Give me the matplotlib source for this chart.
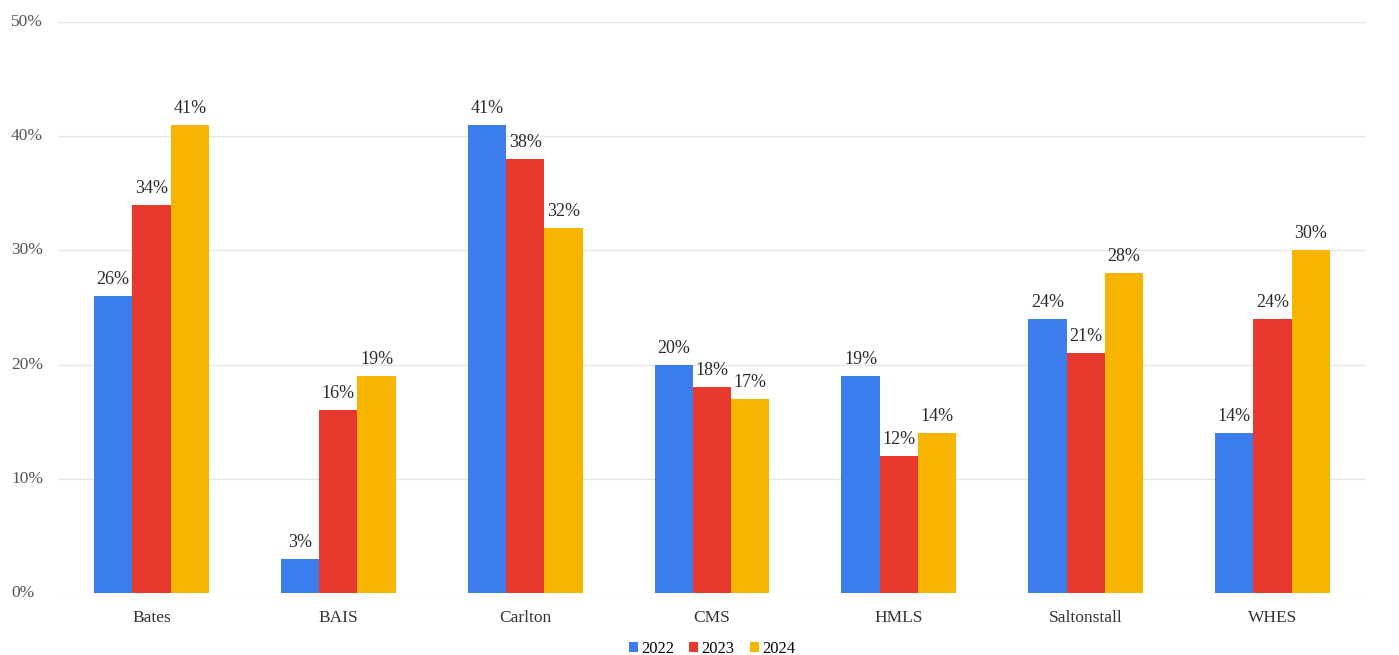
import matplotlib
matplotlib.use("Agg")
import matplotlib.pyplot as plt
import numpy as np

schools = ["Bates", "BAIS", "Carlton", "CMS", "HMLS", "Saltonstall", "WHES"]
years = ["2022", "2023", "2024"]
pct_2022 = [26, 3, 41, 20, 19, 24, 14]
pct_2023 = [34, 16, 38, 18, 12, 21, 24]
pct_2024 = [41, 19, 32, 17, 14, 28, 30]
colors = ["#3b7ded", "#e8392f", "#f7b500"]
y_ticks = [0, 10, 20, 30, 40, 50]

plt.rcParams["font.family"] = ["Liberation Serif", "DejaVu Serif"]

fig = plt.figure(figsize=(13.99, 6.55), dpi=100)
ax = fig.add_axes([58 / 1399, 62 / 655, (1366 - 58) / 1399, (593 - 22) / 655])

x = np.arange(len(schools))
width = 0.205
series = [pct_2022, pct_2023, pct_2024]
for i, (vals, year, col) in enumerate(zip(series, years, colors)):
    pos = x + (i - 1) * width
    bars = ax.bar(pos, vals, width=width, color=col, label=year, zorder=3)
    for b, v in zip(bars, vals):
        ax.text(b.get_x() + b.get_width() / 2, v + 0.7, f"{v}%",
                ha="center", va="bottom", fontsize=13, color="#2a2a2a")

ax.set_xlim(-0.5, len(schools) - 0.5)
ax.set_ylim(0, 50)
ax.set_yticks(y_ticks)
ax.set_yticklabels([])
for t in y_ticks:
    fig.text(11 / 1399, (655 - (593 - t * 11.42)) / 655, f"{t}%",
             ha="left", va="center", fontsize=12.5, color="#555555")
ax.grid(axis="y", color="#e6e6e6", linewidth=1, zorder=0)
ax.tick_params(axis="both", length=0)
ax.set_xticks(x)
ax.set_xticklabels(schools, fontsize=12.5, color="#333333")
ax.tick_params(axis="x", pad=12)
for s in ax.spines.values():
    s.set_visible(False)

ax.legend(loc="upper center", bbox_to_anchor=(0.5, -0.058), ncol=3,
          frameon=False, fontsize=12, handlelength=0.55, handleheight=0.55,
          handletextpad=0.2, columnspacing=0.9)

fig.savefig("out.png", dpi=100, facecolor="white")
